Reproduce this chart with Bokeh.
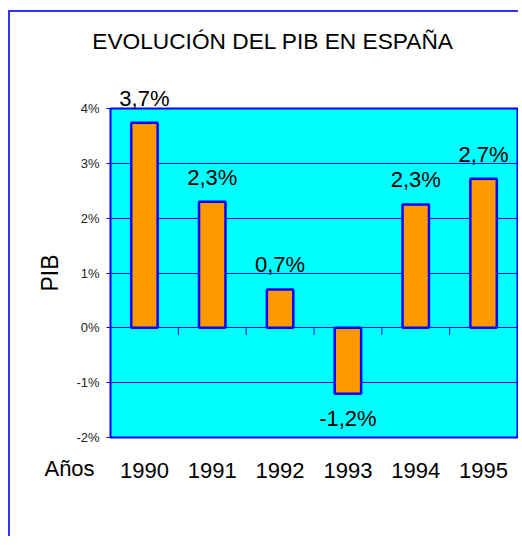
import numpy as np
from bokeh.plotting import figure
from bokeh.models import (ColumnDataSource, FixedTicker,
                          PrintfTickFormatter, Range1d, FactorRange)
from bokeh.embed import file_html
from bokeh.resources import INLINE
from bokeh.core.properties import value

# ---- data ----
years = ["1990", "1991", "1992", "1993", "1994", "1995"]
pib = [3.74, 2.30, 0.70, -1.20, 2.25, 2.72]
pib_labels = ["3,7%", "2,3%", "0,7%", "-1,2%", "2,3%", "2,7%"]
y_ticks = [-2, -1, 0, 1, 2, 3, 4]
title_text = "EVOLUCIÓN DEL PIB EN ESPAÑA"
y_title = "PIB"
x_title = "Años"

FONT = "Liberation Sans"
BLUE = "#0000ff"

src = ColumnDataSource(dict(
    year=years, pib=pib, label=pib_labels,
    yoff=[-24.5 if v >= 0 else 24.5 for v in pib],
))

p = figure(x_range=FactorRange(*years), y_range=Range1d(y_ticks[0], y_ticks[-1]),
           width=510, height=525, output_backend="svg", toolbar_location=None,
           min_border_left=100, min_border_right=3, min_border_top=96, min_border_bottom=100,
           background_fill_color="#00ffff", border_fill_color="white",
           outline_line_color=BLUE, outline_line_width=2)
p.styles = {"border-left": "2px solid #3333ff", "border-top": "1px solid #3333ff",
            "box-shadow": "0px -1px 0px 0px #3333ff",
            "margin-left": "8px", "margin-top": "11px"}

p.vbar(x="year", top="pib", bottom=0, width=0.39, source=src,
       fill_color="#ff9900", line_color=BLUE, line_width=2.5)

# y axis
p.yaxis.ticker = FixedTicker(ticks=y_ticks)
p.yaxis.formatter = PrintfTickFormatter(format="%d%%")
p.yaxis.major_tick_out = 4
p.yaxis.major_tick_in = 0
p.yaxis.minor_tick_out = 0
p.yaxis.minor_tick_in = 0
p.yaxis.major_tick_line_color = BLUE
p.yaxis.axis_line_color = None
p.yaxis.major_label_standoff = 7
p.yaxis.major_label_text_font = FONT
p.yaxis.major_label_text_font_size = "13px"
p.yaxis.major_label_text_color = "#222222"
p.yaxis.axis_label = y_title
p.yaxis.axis_label_standoff = 10
p.yaxis.axis_label_text_font = FONT
p.yaxis.axis_label_text_font_size = "23px"
p.yaxis.axis_label_text_font_style = "normal"
p.yaxis.axis_label_text_color = "black"

# x axis (category labels)
p.xaxis.major_tick_line_color = None
p.xaxis.axis_line_color = None
p.xaxis.major_label_standoff = 19
p.xaxis.major_label_text_font = FONT
p.xaxis.major_label_text_font_size = "22px"
p.xaxis.major_label_text_color = "black"

# grid
p.ygrid.ticker = FixedTicker(ticks=y_ticks)
p.ygrid.grid_line_color = BLUE
p.ygrid.grid_line_width = 1
p.xgrid.grid_line_color = None

# category boundary ticks on the zero line (synthetic category coordinates)
bounds = list(range(1, len(years)))
tick_len = 0.128
p.segment(x0=bounds, x1=bounds, y0=[0] * len(bounds), y1=[-tick_len] * len(bounds),
          line_color=BLUE, line_width=1)

# value labels
p.text(x="year", y="pib", text="label", source=src, y_offset="yoff", level="overlay",
       text_align="center", text_baseline="middle",
       text_font=value(FONT), text_font_size="22px", text_color="black")

# title and x title
p.text(x=[2.396], y=[5.24], text=[title_text], level="overlay", text_align="center",
       text_baseline="middle", text_font=value(FONT), text_font_size="22.7px",
       text_color="black")
p.text(x=[-0.604], y=[-2.571], text=[x_title], level="overlay", text_align="center",
       text_baseline="middle", text_font=value(FONT), text_font_size="22px",
       text_color="black")

open("out.html", "w").write(file_html(p, INLINE))
